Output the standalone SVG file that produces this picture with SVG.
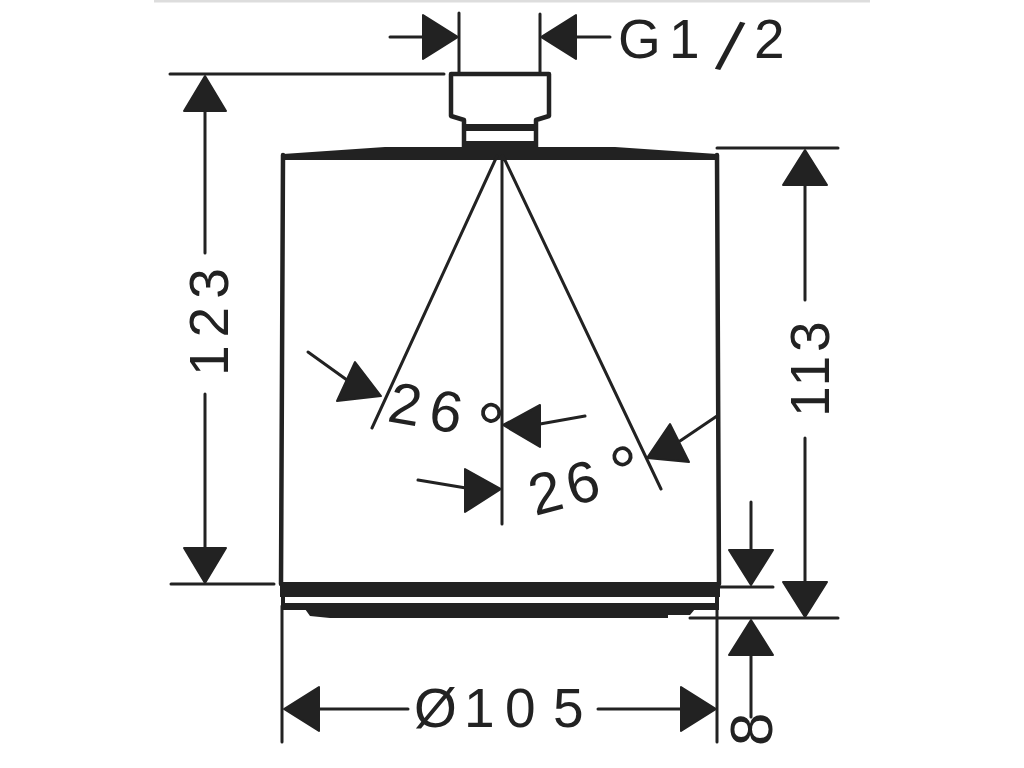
<svg xmlns="http://www.w3.org/2000/svg" width="1024" height="768" viewBox="0 0 1024 768">
<style>
.l{fill:none;stroke:#222;stroke-width:3;stroke-linecap:round}
.o{fill:none;stroke:#222;stroke-width:4.500;stroke-linejoin:round}
.a{fill:#222;stroke:#222;stroke-width:2;stroke-linejoin:round}
.b{fill:#222}
text{font-family:"Liberation Sans",Arial,sans-serif;font-size:55px;fill:#222}
.d{font-size:72px}
.t{font-size:58px}
</style>
<rect width="1024" height="768" fill="#fff"/>
<rect x="154" y="0" width="716" height="2.500" fill="#ddd"/>
<g id="body">
<path class="o" d="M451 74H549V116L536 120V147H464V120L451 116Z"/>
<path class="b" d="M464 124H536V131H464Z"/>
<path class="b" d="M464 141H536V150H464Z"/>
<path class="b" d="M283 154L385 147H615L717 154V160H283Z"/>
<path class="l" style="stroke-width:4.500" d="M283 155L281 584M717 155L719 584"/>
<path class="b" d="M280 582H720V597H280Z"/>
<path class="b" d="M281 603H719V610H281Z"/>
<path class="b" d="M281 596h4v8h-4ZM715 596h4v8h-4Z"/>
<path class="b" d="M305 609H695L690 615H668V618H330L310 616Z"/>
<path class="l" d="M497 156L372 428M503 156L661 489M502 156V524"/>
</g>
<g id="connectors">
<path class="l" d="M459 13V74M540 14V74M390 37H428M574 37H610"/>
<path class="a" d="M458 37L423 15V59Z"/>
<path class="a" d="M541 37L576 15V59Z"/>
<path class="l" d="M170 74H444M171 584H274M717 148H838M690 618H838M720 587H773"/>
<path class="l" d="M205 106V253M205 394V550"/>
<path class="a" d="M205 76L184 111H226Z"/>
<path class="a" d="M205 583L184 548H226Z"/>
<path class="l" d="M805 184V300M805 438V582"/>
<path class="a" d="M805 150L783 185H827Z"/>
<path class="a" d="M805 617L783 582H827Z"/>
<path class="l" d="M751 502V550M751 655V717"/>
<path class="a" d="M751 585L729 550H773Z"/>
<path class="a" d="M751 620L729 655H773Z"/>
<path class="l" d="M282 606V742M717 606V742M320 709H408M598 709H682"/>
<path class="a" d="M284 709L319 687V731Z"/>
<path class="a" d="M716 709L681 687V731Z"/>
<path class="l" d="M308 352L347 380M585 416L540 424M418 480L466 488M717 416L680 441"/>
<path class="a" d="M381 396L355 362L337 401Z"/>
<path class="a" d="M503 425L540 405L540 447Z"/>
<path class="a" d="M501 489L465 469L465 512Z"/>
<path class="a" d="M647 458L670 424L689 462Z"/>
</g>
<g id="labels">
<text x="618" y="58">G</text>
<text x="669" y="58">1</text>
<text transform="translate(715 68) rotate(13)" style="font-size:70px">/</text>
<text x="754" y="58">2</text>
<text transform="translate(228 376) rotate(-90)" letter-spacing="8">123</text>
<text transform="translate(829 417) rotate(-90)" letter-spacing="4">113</text>
<text x="414" y="727">Ø</text>
<text x="464" y="727">1</text>
<text x="505" y="727">0</text>
<text x="553" y="727">5</text>
<text transform="translate(772 746) rotate(-90)" style="font-size:60px">8</text>
<text class="t" transform="translate(386 421) rotate(10)" letter-spacing="9">26</text>
<text class="d" transform="translate(470 450) rotate(10)">°</text>
<text class="t" transform="translate(535 516) rotate(-15)" letter-spacing="6">26</text>
<text class="d" transform="translate(619 499) rotate(-15)">°</text>
</g>
</svg>
